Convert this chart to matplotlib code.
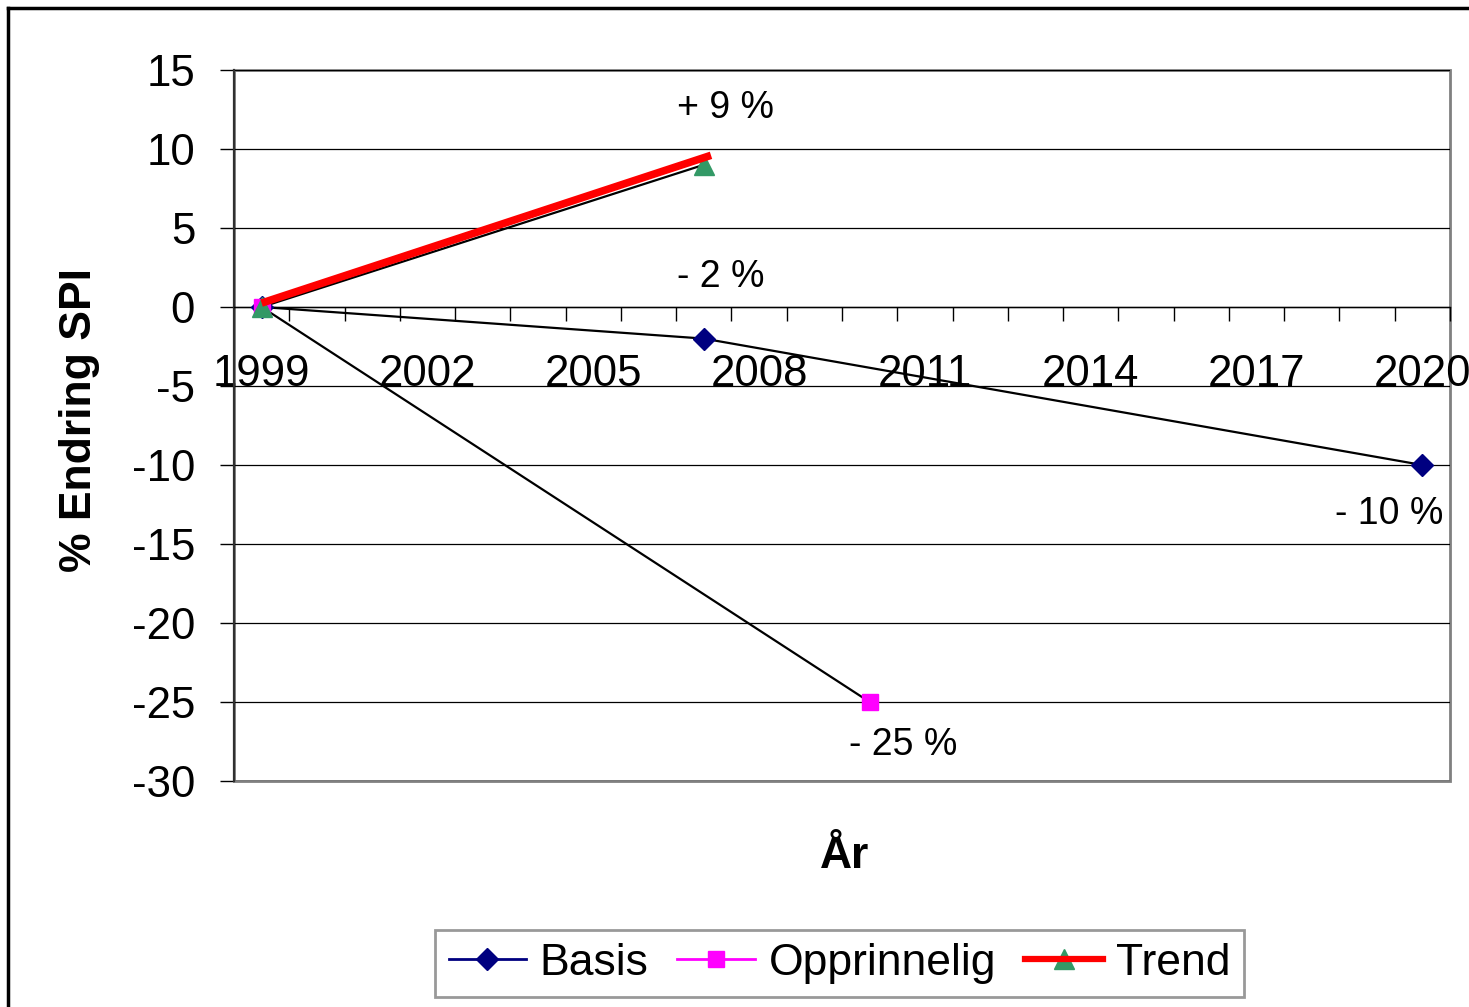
import matplotlib
matplotlib.use("Agg")
import matplotlib.pyplot as plt
import numpy as np
from matplotlib.lines import Line2D
from matplotlib.patches import Rectangle

plt.rcParams['font.family'] = ['Liberation Sans', 'DejaVu Sans']
plt.rcParams['axes.unicode_minus'] = False

# ---- data ----
basis_years = [1999, 2007, 2020]
basis_vals = [0, -2, -10]
oppr_years = [1999, 2010]
oppr_vals = [0, -25]
trend_years = [1999, 2007]
trend_vals = [0, 9]
# hand-drawn red highlight of the trend
red_years = [1999.0, 2007.13]
red_vals = [0.25, 9.6]

year_labels = [1999, 2002, 2005, 2008, 2011, 2014, 2017, 2020]
y_ticks = [15, 10, 5, 0, -5, -10, -15, -20, -25, -30]

annotations = [("+ 9 %", 2007.4, 12.6), ("- 2 %", 2007.3, 1.9),
               ("- 10 %", 2019.4, -13.1), ("- 25 %", 2010.6, -27.7)]

W, H = 1469, 1007
fig = plt.figure(figsize=(W / 100, H / 100), dpi=100)
ax = fig.add_axes([234 / W, 1 - 781 / H, (1450 - 234) / W, (781 - 70) / H])

ax.set_xlim(1998.5, 2020.5)
ax.set_ylim(-30, 15)

# grid
ax.set_yticks(y_ticks)
ax.yaxis.grid(True, color='black', lw=0.9)
ax.set_axisbelow(True)

# spines
for s in ['top', 'right']:
    ax.spines[s].set_visible(False)
ax.spines['left'].set_color('#303030')
ax.spines['left'].set_linewidth(1.6)
ax.spines['bottom'].set_position(('data', 0))
ax.spines['bottom'].set_color('black')
ax.spines['bottom'].set_linewidth(1.0)
ax.add_patch(Rectangle((0, 0), 1, 1, transform=ax.transAxes, fill=False,
                       edgecolor='#808080', lw=2.0, clip_on=False, zorder=0.5))

# x ticks
ax.set_xticks(year_labels)
ax.set_xticklabels([str(y) for y in year_labels])
ax.set_xticks(np.arange(1999.5, 2020.6, 1), minor=True)
ax.tick_params(axis='x', which='major', length=0, pad=34, labelsize=31.5)
ax.tick_params(axis='x', which='minor', length=10, width=1.0, direction='out', color='black')
ax.tick_params(axis='y', which='major', length=10, width=1.0, pad=18, labelsize=31.5,
               color='black')

# series lines (black) with markers
ax.plot(basis_years, basis_vals, color='black', lw=1.6, zorder=3)
ax.plot(oppr_years, oppr_vals, color='black', lw=1.6, zorder=3)
ax.plot(trend_years, trend_vals, color='black', lw=1.6, zorder=3)
ax.plot(basis_years, basis_vals, ls='none', marker='D', ms=11, color='#000080', zorder=4)
ax.plot(oppr_years, oppr_vals, ls='none', marker='s', ms=12, color='#FF00FF', zorder=5)
ax.plot(trend_years, trend_vals, ls='none', marker='^', ms=14, color='#339966', zorder=6)
ax.plot(red_years, red_vals, color='#FF0000', lw=5.5, solid_capstyle='butt', zorder=7)

for txt, x, y in annotations:
    ax.text(x, y, txt, fontsize=27, ha='center', va='center')

fig.text(80 / W, 1 - 420 / H, "% Endring SPI", rotation=90, fontsize=32,
         fontweight='bold', ha='center', va='center')
fig.text(845 / W, 1 - 857 / H, "År", fontsize=32, fontweight='bold',
         ha='center', va='center')

# legend
h_basis = Line2D([], [], color='#000080', lw=2, marker='D', ms=11)
h_oppr = Line2D([], [], color='#FF00FF', lw=2, marker='s', ms=12)
h_tr1 = Line2D([], [], color='#339966', lw=2, marker='^', ms=14)
h_tr2 = Line2D([], [], color='#FF0000', lw=4.5)
leg = fig.legend([h_basis, h_oppr, (h_tr1, h_tr2)], ["Basis", "Opprinnelig", "Trend"],
                 loc='center', bbox_to_anchor=(839.5 / W, 1 - 963.5 / H), ncol=3,
                 fontsize=32, frameon=True, fancybox=False, handlelength=1.75,
                 handletextpad=0.3, columnspacing=0.65, borderpad=0.3,
                 borderaxespad=0)
leg.get_frame().set_edgecolor('#808080')
leg.get_frame().set_linewidth(2)

# outer frame (top and left)
fig.add_artist(Line2D([8 / W, 1], [1 - 8 / H, 1 - 8 / H], transform=fig.transFigure,
                      color='black', lw=2.5))
fig.add_artist(Line2D([8 / W, 8 / W], [0, 1 - 8 / H], transform=fig.transFigure,
                      color='black', lw=2.5))

fig.savefig("out.png", dpi=100)
